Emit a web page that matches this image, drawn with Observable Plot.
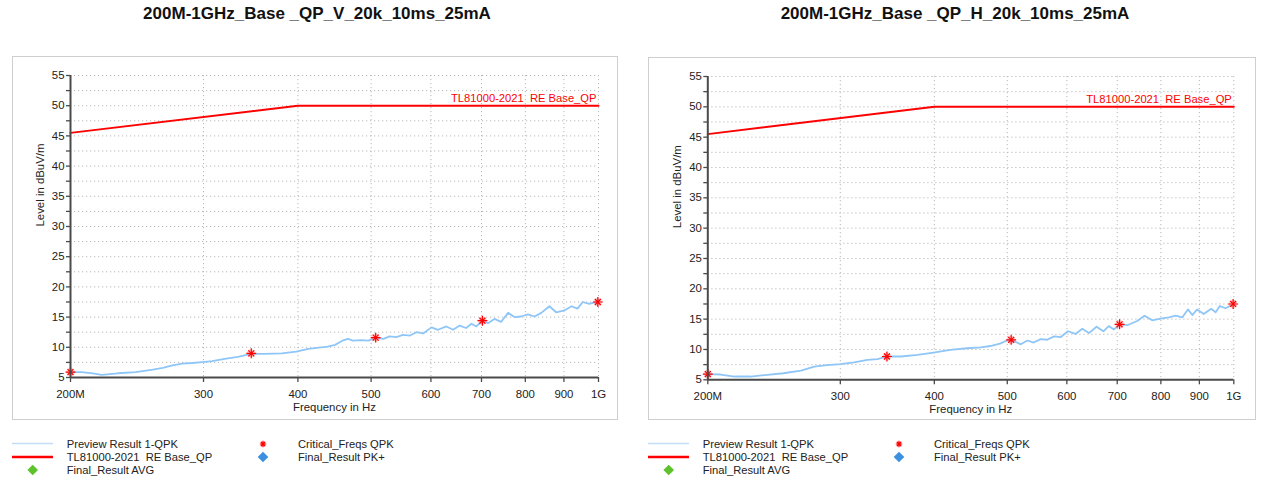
<!DOCTYPE html>
<html><head><meta charset="utf-8">
<script src="https://cdn.jsdelivr.net/npm/d3@7"></script>
<script src="https://cdn.jsdelivr.net/npm/@observablehq/plot@0.6"></script>
<style>
body{margin:0;background:#fff;font-family:"Liberation Sans",Arial,sans-serif;}
#root{position:relative;width:1265px;height:491px;overflow:hidden;background:#fff;}
.title{position:absolute;top:4px;font-weight:bold;font-size:17px;line-height:20px;color:#111;white-space:pre;transform:translateX(-50%);}
.box{position:absolute;border:1px solid #cfcfcf;box-sizing:border-box;}
.box svg{position:absolute;left:0;top:0;overflow:visible;}
</style></head><body><div id="root"></div>
<script>
// ---- data (frequency in MHz, level in dBuV/m) ----
const titles = ["200M-1GHz_Base _QP_V_20k_10ms_25mA", "200M-1GHz_Base _QP_H_20k_10ms_25mA"];
const xTicks = [200, 300, 400, 500, 600, 700, 800, 900, 1000];
const xTickLabels = ["200M", "300", "400", "500", "600", "700", "800", "900", "1G"];
const yTicks = [5, 10, 15, 20, 25, 30, 35, 40, 45, 50, 55];
const yMinorTicks = [7.5, 12.5, 17.5, 22.5, 27.5, 32.5, 37.5, 42.5, 47.5, 52.5];
const limitLabel = "TL81000-2021\u00a0 RE Base_QP";
const limitLine = [[200, 45.5], [400, 50], [1000, 50]];

const previewV = [[200,5.9],[207,5.9],[214,5.7],[220,5.45],[231,5.7],[244,5.9],[257,6.3],[265,6.6],[273,7.0],[281,7.3],[290,7.4],[299,7.55],[308,7.7],[320,8.1],[333,8.4],[347,8.9],[361,8.9],[381,9.0],[398,9.3],[413,9.75],[438,10.1],[448,10.4],[458,11.1],[466,11.4],[473,11.1],[486,11.2],[496,11.1],[507,11.6],[519,11.4],[529,11.8],[540,11.7],[551,12.05],[563,11.95],[574,12.5],[586,12.3],[601,13.3],[613,12.9],[629,13.45],[642,12.9],[655,13.6],[668,13.2],[679,13.9],[689,13.45],[702,14.4],[714,14.0],[728,14.7],[743,14.2],[759,15.7],[774,15.0],[790,15.1],[806,15.45],[823,15.1],[840,15.7],[861,16.8],[879,15.8],[901,16.1],[921,16.8],[938,16.4],[953,17.5],[972,17.2],[1000,17.6]];
const criticalV = [[200,5.9],[347,9.0],[507,11.6],[702,14.4],[998,17.5]];

const previewH = [[200,5.95],[208,5.87],[217,5.54],[228,5.54],[240,5.81],[252,6.08],[266,6.51],[277,7.16],[288,7.43],[300,7.6],[313,7.86],[326,8.3],[336,8.4],[346,8.84],[361,8.84],[380,9.1],[399,9.49],[420,9.92],[442,10.2],[461,10.35],[475,10.57],[490,11.0],[499,11.48],[506,11.59],[521,10.85],[532,11.48],[542,11.14],[554,11.7],[565,11.6],[577,12.16],[589,12.05],[602,13.0],[616,12.56],[629,13.4],[642,12.7],[657,13.75],[671,13.0],[682,13.86],[693,13.3],[705,14.15],[722,14.0],[744,14.7],[761,15.57],[779,14.8],[799,15.1],[820,15.28],[837,15.57],[854,15.28],[869,16.6],[881,15.68],[894,16.6],[912,15.85],[933,16.7],[946,16.14],[958,17.16],[975,16.8],[1000,17.5]];
const criticalH = [[200,5.95],[346,8.84],[506,11.59],[705,14.15],[998,17.5]];

const legendLeft = ["Preview Result 1-QPK", "TL81000-2021\u00a0 RE Base_QP", "Final_Result AVG"];
const legendRight = ["Critical_Freqs QPK", "Final_Result PK+"];

// ---- rendering ----
const root = document.getElementById("root");
const RED = "#ff0000", TRACE = "#8fc6f8", AXIS = "#4a4a4a", GRID = "#b8b8b8";
const fmtX = d => xTickLabels[xTicks.indexOf(d)] ?? String(d);

function panel(cfg) {
  const box = document.createElement("div");
  box.className = "box";
  Object.assign(box.style, {left: cfg.left + "px", top: cfg.top + "px", width: cfg.bw + "px", height: cfg.bh + "px"});
  root.appendChild(box);
  const t = document.createElement("div");
  t.className = "title"; t.textContent = cfg.title; t.style.left = cfg.titleX + "px";
  root.appendChild(t);
  const chart = Plot.plot({
    width: cfg.bw - 2, height: cfg.bh - 2,
    marginLeft: cfg.ml, marginRight: cfg.mr, marginTop: cfg.mt, marginBottom: cfg.mb,
    style: {fontFamily: "'Liberation Sans', Arial, sans-serif", fontSize: "11.4px", color: "#222", background: "transparent", overflow: "visible"},
    x: {type: "log", domain: [200, 1000], label: null},
    y: {domain: [5, 55], label: null},
    marks: [
      Plot.gridY(yTicks.slice(1).concat(yMinorTicks), {stroke: GRID, strokeOpacity: 1, strokeDasharray: "1.2,2.8"}),
      Plot.gridX(xTicks.slice(1), {stroke: GRID, strokeOpacity: 1, strokeDasharray: "1.2,2.8"}),
      Plot.line(cfg.preview, {x: d => d[0], y: d => d[1], stroke: TRACE, strokeWidth: 1.8}),
      Plot.line(limitLine, {x: d => d[0], y: d => d[1], stroke: RED, strokeWidth: 2}),
      Plot.text([limitLabel], {x: 1000, y: 50, text: d => d, fill: RED, textAnchor: "end", dx: -2, dy: -7, fontSize: 11.2}),
      Plot.dot(cfg.critical, {x: d => d[0], y: d => d[1], r: 4.2, fill: "#ff8080", fillOpacity: 0.4}),
      Plot.dot(cfg.critical, {x: d => d[0], y: d => d[1], symbol: "plus", r: 3.3, stroke: RED, strokeWidth: 1.2}),
      Plot.dot(cfg.critical, {x: d => d[0], y: d => d[1], symbol: "times", r: 2.8, stroke: RED, strokeWidth: 1.2}),
      Plot.ruleX([200], {stroke: AXIS, strokeWidth: 2}),
      Plot.ruleY([5], {stroke: AXIS, strokeWidth: 2}),
      Plot.axisY({ticks: yTicks, tickSize: 4, tickPadding: 2, stroke: AXIS, strokeWidth: 1.3, label: null}),
      Plot.axisY({ticks: yMinorTicks, tickSize: 4, tickFormat: () => "", stroke: AXIS, strokeWidth: 1.3, label: null}),
      Plot.axisX({ticks: xTicks, tickFormat: fmtX, tickSize: 5, tickPadding: 7, stroke: AXIS, strokeWidth: 1.3, label: null}),
      Plot.text(["Frequency in Hz"], {frameAnchor: "bottom", dy: 33, text: d => d, fontSize: 11.4}),
      Plot.text(["Level in dBuV/m"], {frameAnchor: "left", dx: -30, rotate: -90, text: d => d, fontSize: 11.4})
    ]
  });
  box.appendChild(chart);
}

panel({title: titles[0], titleX: 317, left: 12, top: 56, bw: 606, bh: 364, ml: 57, mr: 19, mt: 18, mb: 42, preview: previewV, critical: criticalV});
panel({title: titles[1], titleX: 955, left: 648, top: 57, bw: 608, bh: 363, ml: 58.3, mr: 21.7, mt: 18, mb: 39.7, preview: previewH, critical: criticalH});

// legend below the panels
const lg = d3.select(root).append("svg").attr("width", 1265).attr("height", 71)
  .style("position", "absolute").style("left", "0px").style("top", "420px")
  .style("font-family", "'Liberation Sans', Arial, sans-serif").style("font-size", "11.2px");
const rows = [24.5, 37, 50.5];
function star(g, cx, cy, s, w) {
  g.append("path").attr("d", `M${cx - s},${cy}H${cx + s}M${cx},${cy - s}V${cy + s}M${cx - s * 0.7},${cy - s * 0.7}L${cx + s * 0.7},${cy + s * 0.7}M${cx - s * 0.7},${cy + s * 0.7}L${cx + s * 0.7},${cy - s * 0.7}`)
    .attr("stroke", RED).attr("stroke-width", w).attr("fill", "none");
}
function diamond(g, cx, cy, s, color) {
  g.append("path").attr("d", `M${cx},${cy - s}L${cx + s},${cy}L${cx},${cy + s}L${cx - s},${cy}Z`).attr("fill", color);
}
[0, 636].forEach(off => {
  const g = lg.append("g").attr("transform", `translate(${off},0)`);
  g.append("line").attr("x1", 12).attr("x2", 53).attr("y1", rows[0] - 1).attr("y2", rows[0] - 1).attr("stroke", "#c4ddf6").attr("stroke-width", 1.5);
  g.append("line").attr("x1", 12).attr("x2", 53).attr("y1", rows[1]).attr("y2", rows[1]).attr("stroke", RED).attr("stroke-width", 2.6);
  diamond(g, 32.7, rows[2] - 0.5, 5.3, "#5dc22b");
  star(g, 263, rows[0] - 0.5, 3.2, 1.2);
  diamond(g, 263, rows[1], 5.3, "#3d8fe0");
  legendLeft.forEach((s, i) => g.append("text").attr("x", 66.7).attr("y", rows[i]).attr("dy", "0.35em").attr("fill", "#222").text(s));
  legendRight.forEach((s, i) => g.append("text").attr("x", 298).attr("y", rows[i]).attr("dy", "0.35em").attr("fill", "#222").text(s));
});
</script></body></html>
